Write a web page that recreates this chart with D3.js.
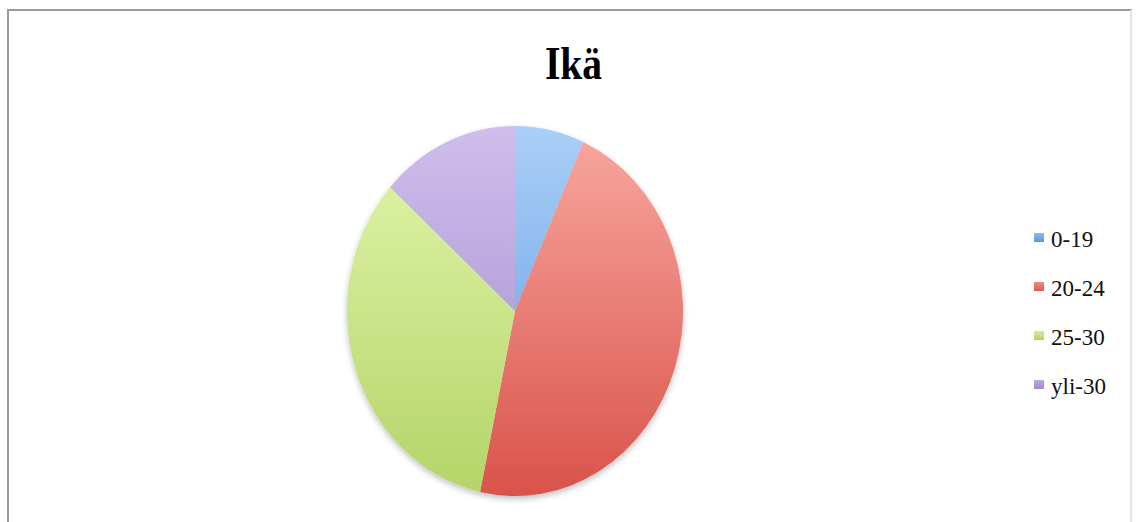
<!DOCTYPE html>
<html><head><meta charset="utf-8">
<script src="https://cdn.jsdelivr.net/npm/d3@7"></script>
<style>html,body{margin:0;padding:0;background:#fff;}svg{display:block;}</style>
</head><body>
<svg id="chart" width="1138" height="522"></svg>
<script>
const title = "Ikä";
const categories = ["0-19", "20-24", "25-30", "yli-30"];
const values = [1, 7, 5, 2];
const topColors = ["#aacff8", "#f8a8a0", "#e2f6ab", "#cfbeec"];
const bottomColors = ["#5d97dc", "#d9534a", "#b4d468", "#a088cc"];
const legendTop = ["#8dbbef", "#f08a82", "#d2ea95", "#bda9e4"];
const legendBottom = ["#5a96dc", "#dc5a52", "#b4d468", "#a088cc"];

const svg = d3.select("#chart");
const cx = 515, cy = 311, rx = 168, ry = 185;

// frame
svg.append("rect").attr("x", 8).attr("y", 10).attr("width", 1123).attr("height", 530)
  .attr("fill", "#fff").attr("stroke", "#9a9a9a").attr("stroke-width", 2);
svg.append("line").attr("x1", 1131).attr("x2", 1131).attr("y1", 10).attr("y2", 522)
  .attr("stroke", "#e4e4e4").attr("stroke-width", 2);

svg.append("text").attr("x", 0).attr("y", 0)
  .attr("transform", `translate(573.5,79) scale(0.86,1)`)
  .attr("text-anchor", "middle")
  .attr("font-family", "Liberation Serif, serif").attr("font-weight", "bold")
  .attr("font-size", 46).attr("fill", "#000").text(title);

const defs = svg.append("defs");
const f = defs.append("filter").attr("id", "sh").attr("x", "-20%").attr("y", "-20%").attr("width", "140%").attr("height", "140%");
f.append("feGaussianBlur").attr("in", "SourceAlpha").attr("stdDeviation", 3).attr("result", "b");
f.append("feOffset").attr("in", "b").attr("dy", 3).attr("result", "o");
f.append("feComponentTransfer").attr("in", "o").attr("result", "o2")
  .append("feFuncA").attr("type", "linear").attr("slope", 0.25);
const m = f.append("feMerge");
m.append("feMergeNode").attr("in", "o2");
m.append("feMergeNode").attr("in", "SourceGraphic");

categories.forEach((c, i) => {
  const g = defs.append("linearGradient").attr("id", "g" + i)
    .attr("gradientUnits", "userSpaceOnUse")
    .attr("x1", 0).attr("x2", 0).attr("y1", -rx).attr("y2", rx);
  g.append("stop").attr("offset", 0).attr("stop-color", topColors[i]);
  g.append("stop").attr("offset", 1).attr("stop-color", bottomColors[i]);
  const lgr = defs.append("linearGradient").attr("id", "lg" + i)
    .attr("x1", 0).attr("x2", 0).attr("y1", 0).attr("y2", 1);
  lgr.append("stop").attr("offset", 0).attr("stop-color", legendTop[i]);
  lgr.append("stop").attr("offset", 1).attr("stop-color", legendBottom[i]);
});

const pie = d3.pie().sort(null).value(d => d)(values);
const arc = d3.arc().innerRadius(0).outerRadius(rx);
const pg = svg.append("g").attr("filter", "url(#sh)")
  .attr("transform", `translate(${cx},${cy}) scale(1,${ry / rx})`);
pg.selectAll("path").data(pie).join("path")
  .attr("d", arc).attr("fill", (d, i) => `url(#g${i})`);

const lg = svg.append("g");
const ly = d3.scalePoint().domain(categories).range([238, 385]);
categories.forEach((c, i) => {
  lg.append("rect").attr("x", 1034).attr("y", ly(c) - 5).attr("width", 10).attr("height", 9)
    .attr("fill", `url(#lg${i})`);
  lg.append("text").attr("x", 1051).attr("y", ly(c) + 9)
    .attr("font-family", "Liberation Serif, serif").attr("font-size", 23)
    .attr("fill", "#111").text(c);
});
</script>
</body></html>
